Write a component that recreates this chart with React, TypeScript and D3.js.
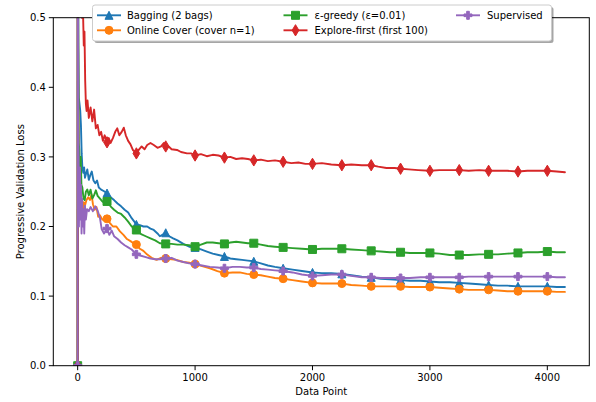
import React from "react";
import * as d3 from "d3";

const W = 596;
const H = 402;

const xTicks = [0, 1000, 2000, 3000, 4000];
const yTicks = [0, 0.1, 0.2, 0.3, 0.4, 0.5];
const xLabel = "Data Point";
const yLabel = "Progressive Validation Loss";

const seriesNames = [
  "Bagging (2 bags)",
  "Online Cover (cover n=1)",
  "ε-greedy (ε=0.01)",
  "Explore-first (first 100)",
  "Supervised",
];
const seriesColors = ["#1f77b4", "#ff7f0e", "#2ca02c", "#d62728", "#9467bd"];
const seriesMarkers = ["triangle", "circle", "square", "thinDiamond", "plus"];

const baggingData: [number, number][] = [
  [0, 0], [1, 1.0], [3, 0.61], [6, 0.46], [10, 0.385], [16, 0.376], [22, 0.366], [28, 0.345], [34, 0.305], [40, 0.285],
  [48, 0.277], [55, 0.285], [62, 0.27], [70, 0.275], [82, 0.282], [95, 0.267], [110, 0.275], [120, 0.279], [135, 0.266],
  [150, 0.262], [165, 0.266], [180, 0.256], [200, 0.253], [221, 0.251], [250, 0.248], [280, 0.242], [310, 0.238],
  [340, 0.233], [370, 0.229], [400, 0.224], [430, 0.22], [460, 0.212], [500, 0.203], [530, 0.202], [560, 0.2],
  [592, 0.2], [620, 0.197], [648, 0.195], [680, 0.19], [700, 0.186], [750, 0.191], [780, 0.186], [813, 0.183],
  [850, 0.18], [900, 0.175], [950, 0.171], [1000, 0.17], [1050, 0.167], [1101, 0.164], [1150, 0.161], [1200, 0.159],
  [1250, 0.157], [1300, 0.154], [1350, 0.153], [1400, 0.152], [1450, 0.151], [1500, 0.15], [1560, 0.147],
  [1620, 0.144], [1680, 0.142], [1750, 0.14], [1830, 0.138], [1910, 0.136], [2000, 0.134], [2080, 0.133],
  [2160, 0.133], [2250, 0.132], [2330, 0.13], [2420, 0.128], [2500, 0.127], [2580, 0.125], [2660, 0.124],
  [2750, 0.123], [2830, 0.122], [2920, 0.122], [3000, 0.121], [3080, 0.12], [3170, 0.12], [3250, 0.119],
  [3330, 0.118], [3420, 0.117], [3500, 0.116], [3580, 0.115], [3660, 0.115], [3750, 0.114], [3830, 0.114],
  [3920, 0.114], [4000, 0.114], [4080, 0.113], [4150, 0.113],
];

const onlineCoverData: [number, number][] = [
  [0, 0], [1, 1.0], [3, 0.55], [6, 0.38], [10, 0.3], [16, 0.26], [24, 0.245], [32, 0.23], [42, 0.22], [52, 0.235],
  [62, 0.23], [75, 0.238], [90, 0.242], [105, 0.238], [118, 0.246], [130, 0.232], [145, 0.224], [160, 0.228],
  [175, 0.214], [190, 0.216], [210, 0.21], [232, 0.209], [250, 0.211], [275, 0.205], [300, 0.2], [330, 0.2],
  [360, 0.193], [390, 0.188], [420, 0.182], [450, 0.179], [475, 0.176], [500, 0.174], [530, 0.168], [560, 0.165],
  [590, 0.16], [630, 0.155], [672, 0.152], [710, 0.155], [750, 0.154], [800, 0.153], [843, 0.152], [900, 0.149],
  [950, 0.148], [1000, 0.146], [1060, 0.143], [1126, 0.14], [1190, 0.136], [1250, 0.133], [1320, 0.134],
  [1381, 0.134], [1440, 0.132], [1500, 0.131], [1560, 0.13], [1620, 0.128], [1680, 0.126], [1750, 0.125],
  [1830, 0.123], [1910, 0.121], [2000, 0.119], [2080, 0.118], [2160, 0.118], [2250, 0.118], [2330, 0.116],
  [2420, 0.115], [2500, 0.114], [2580, 0.114], [2660, 0.114], [2750, 0.114], [2830, 0.113], [2920, 0.113],
  [3000, 0.113], [3080, 0.112], [3170, 0.111], [3250, 0.11], [3330, 0.109], [3420, 0.109], [3500, 0.109],
  [3580, 0.108], [3660, 0.107], [3750, 0.107], [3830, 0.107], [3920, 0.107], [4000, 0.107], [4080, 0.106],
  [4150, 0.106],
];

const epsGreedyData: [number, number][] = [
  [0, 0], [1, 1.0], [3, 0.6], [6, 0.4], [9, 0.32], [14, 0.31], [20, 0.28], [26, 0.3], [32, 0.26], [40, 0.256],
  [50, 0.24], [60, 0.238], [70, 0.25], [82, 0.253], [95, 0.245], [110, 0.253], [125, 0.24], [140, 0.245],
  [155, 0.252], [170, 0.244], [190, 0.24], [210, 0.236], [230, 0.234], [250, 0.236], [280, 0.229], [310, 0.224],
  [340, 0.22], [370, 0.218], [400, 0.213], [430, 0.207], [460, 0.2], [500, 0.195], [540, 0.189], [580, 0.186],
  [620, 0.183], [660, 0.18], [700, 0.176], [750, 0.175], [800, 0.175], [850, 0.174], [900, 0.174], [950, 0.173],
  [1000, 0.171], [1050, 0.174], [1100, 0.177], [1150, 0.177], [1200, 0.176], [1250, 0.175], [1300, 0.177],
  [1350, 0.178], [1400, 0.177], [1450, 0.176], [1500, 0.176], [1560, 0.174], [1620, 0.172], [1680, 0.171],
  [1750, 0.17], [1830, 0.169], [1910, 0.168], [2000, 0.167], [2080, 0.168], [2160, 0.168], [2250, 0.168],
  [2330, 0.167], [2420, 0.166], [2500, 0.165], [2580, 0.164], [2660, 0.163], [2750, 0.163], [2830, 0.162],
  [2920, 0.162], [3000, 0.162], [3080, 0.161], [3170, 0.159], [3250, 0.159], [3330, 0.159], [3420, 0.16],
  [3500, 0.16], [3580, 0.16], [3660, 0.161], [3750, 0.162], [3830, 0.163], [3920, 0.163], [4000, 0.164],
  [4080, 0.163], [4150, 0.163],
];

const exploreFirstData: [number, number][] = [
  [0, 0], [1, 1.0], [5, 0.63], [12, 0.56], [20, 0.51], [28, 0.54], [36, 0.5], [44, 0.52], [52, 0.46], [58, 0.48],
  [64, 0.41], [70, 0.376], [76, 0.366], [84, 0.381], [95, 0.356], [110, 0.371], [125, 0.351], [140, 0.368], [155, 0.341],
  [170, 0.346], [185, 0.331], [200, 0.336], [215, 0.323], [230, 0.331], [250, 0.321], [265, 0.327], [280, 0.32],
  [300, 0.327], [320, 0.336], [337, 0.341], [355, 0.331], [375, 0.336], [393, 0.342], [410, 0.331], [430, 0.323],
  [450, 0.318], [470, 0.31], [490, 0.307], [500, 0.305], [520, 0.31], [545, 0.315], [570, 0.311], [592, 0.317],
  [620, 0.32], [648, 0.317], [680, 0.313], [710, 0.315], [735, 0.32], [750, 0.315], [775, 0.315], [800, 0.311],
  [846, 0.31], [880, 0.307], [931, 0.305], [965, 0.305], [1000, 0.302], [1050, 0.304], [1100, 0.301],
  [1150, 0.303], [1200, 0.302], [1250, 0.299], [1300, 0.3], [1350, 0.297], [1400, 0.298], [1450, 0.297],
  [1500, 0.295], [1560, 0.296], [1620, 0.294], [1680, 0.295], [1750, 0.293], [1820, 0.291], [1880, 0.292],
  [1940, 0.29], [2000, 0.29], [2080, 0.291], [2160, 0.289], [2250, 0.288], [2330, 0.289], [2420, 0.288],
  [2500, 0.288], [2560, 0.286], [2630, 0.284], [2700, 0.284], [2750, 0.283], [2820, 0.282], [2900, 0.281],
  [3000, 0.28], [3080, 0.281], [3160, 0.281], [3250, 0.281], [3330, 0.28], [3420, 0.281], [3500, 0.28],
  [3580, 0.28], [3660, 0.28], [3750, 0.279], [3830, 0.28], [3900, 0.28], [4000, 0.28], [4080, 0.279],
  [4150, 0.278],
];

const supervisedData: [number, number][] = [
  [0, 0], [1, 1.0], [3, 0.5], [5, 0.35], [8, 0.3], [11, 0.2], [14, 0.27], [17, 0.22], [20, 0.285], [24, 0.21],
  [28, 0.26], [33, 0.19], [38, 0.24], [44, 0.2], [50, 0.225], [56, 0.19], [62, 0.23], [70, 0.21], [80, 0.225],
  [95, 0.222], [110, 0.228], [130, 0.222], [150, 0.229], [170, 0.223], [190, 0.212], [205, 0.196], [225, 0.19],
  [250, 0.197], [270, 0.188], [290, 0.194], [310, 0.186], [340, 0.182], [370, 0.177], [400, 0.173], [430, 0.17],
  [460, 0.167], [500, 0.16], [540, 0.158], [580, 0.156], [620, 0.154], [660, 0.153], [700, 0.153], [750, 0.154],
  [800, 0.155], [850, 0.151], [900, 0.149], [950, 0.147], [1000, 0.146], [1060, 0.144], [1126, 0.142],
  [1190, 0.141], [1250, 0.14], [1320, 0.142], [1381, 0.142], [1440, 0.141], [1500, 0.141], [1560, 0.139],
  [1620, 0.138], [1680, 0.137], [1750, 0.136], [1830, 0.134], [1910, 0.131], [2000, 0.129], [2080, 0.13],
  [2160, 0.131], [2250, 0.131], [2330, 0.129], [2420, 0.127], [2500, 0.127], [2580, 0.126], [2660, 0.126],
  [2750, 0.126], [2830, 0.126], [2920, 0.127], [3000, 0.127], [3080, 0.127], [3170, 0.127], [3250, 0.127],
  [3330, 0.128], [3420, 0.128], [3500, 0.128], [3580, 0.128], [3660, 0.128], [3750, 0.128], [3830, 0.128],
  [3920, 0.128], [4000, 0.128], [4080, 0.127], [4150, 0.127],
];

const seriesData = [baggingData, onlineCoverData, epsGreedyData, exploreFirstData, supervisedData];
const markEvery = 250;

// layout
const AX_L = 53.3;
const AX_R = 589.3;
const AX_T = 17.7;
const AX_B = 365.7;
const MS = 8;

function markerPath(kind: string, s: number): string {
  const h = s / 2;
  switch (kind) {
    case "triangle":
      return `M0,${-h}L${h},${h}L${-h},${h}Z`;
    case "square":
      return `M${-h},${-h}H${h}V${h}H${-h}Z`;
    case "thinDiamond": {
      const dy = h * 1.414;
      const dx = dy * 0.6;
      return `M0,${-dy}L${dx},0L0,${dy}L${-dx},0Z`;
    }
    case "plus": {
      const a = s / 6;
      return `M${-a},${-h}H${a}V${-a}H${h}V${a}H${a}V${h}H${-a}V${a}H${-h}V${-a}H${-a}Z`;
    }
    default: {
      return d3.symbol(d3.symbolCircle, Math.PI * h * h)() || "";
    }
  }
}

export default function App() {
  const x = d3.scaleLinear().domain([-207.5, 4357.5]).range([AX_L, AX_R]);
  const y = d3.scaleLinear().domain([0, 0.5]).range([AX_B, AX_T]);
  const line = d3
    .line<[number, number]>()
    .x((d) => x(d[0]))
    .y((d) => y(d[1]));
  const font = "'DejaVu Sans', sans-serif";

  const legendCols = [
    { hx: 97, tx: 127 },
    { hx: 283.5, tx: 314.5 },
    { hx: 456, tx: 487 },
  ];
  const legendRows = [15.3, 30.3];

  return (
    <svg
      width={W}
      height={H}
      viewBox={`0 0 ${W} ${H}`}
      style={{ position: "absolute", left: 0, top: 0, background: "#fff" }}
      fontFamily={font}
    >
      <rect x={0} y={0} width={W} height={H} fill="#fff" />
      <defs>
        <clipPath id="plotclip">
          <rect x={AX_L} y={AX_T} width={AX_R - AX_L} height={AX_B - AX_T} />
        </clipPath>
      </defs>

      <g clipPath="url(#plotclip)">
        {seriesData.map((data, i) => (
          <g key={i}>
            <path
              d={line(data) || ""}
              fill="none"
              stroke={seriesColors[i]}
              strokeWidth={1.9}
              strokeLinejoin="round"
              strokeLinecap="round"
            />
            {data
              .filter((d) => d[0] % markEvery === 0)
              .map((d, j) => (
                <path
                  key={j}
                  transform={`translate(${x(d[0])},${y(d[1])})`}
                  d={markerPath(seriesMarkers[i], MS)}
                  fill={seriesColors[i]}
                  stroke={seriesColors[i]}
                  strokeWidth={1}
                />
              ))}
          </g>
        ))}
      </g>

      {/* spines */}
      <rect
        x={AX_L}
        y={AX_T}
        width={AX_R - AX_L}
        height={AX_B - AX_T}
        fill="none"
        stroke="#000"
        strokeWidth={1}
      />

      {/* x ticks */}
      {xTicks.map((t) => (
        <g key={t} transform={`translate(${x(t)},${AX_B})`}>
          <line y1={0} y2={4.5} stroke="#000" strokeWidth={1} />
          <text y={15} textAnchor="middle" fontSize={10} fill="#000">
            {t}
          </text>
        </g>
      ))}
      {/* y ticks */}
      {yTicks.map((t) => (
        <g key={t} transform={`translate(${AX_L},${y(t)})`}>
          <line x1={0} x2={-4.5} stroke="#000" strokeWidth={1} />
          <text x={-7.5} y={3.6} textAnchor="end" fontSize={10} fill="#000">
            {d3.format(".1f")(t)}
          </text>
        </g>
      ))}

      <text x={(AX_L + AX_R) / 2} y={395} textAnchor="middle" fontSize={10} fill="#000">
        {xLabel}
      </text>
      <text
        transform={`translate(23.5,${(AX_T + AX_B) / 2}) rotate(-90)`}
        textAnchor="middle"
        fontSize={10}
        fill="#000"
      >
        {yLabel}
      </text>

      {/* legend */}
      <g>
        <rect x={94.5} y={7} width={459} height={36} rx={2.5} fill="#000" opacity={0.35} />
        <rect x={92.5} y={5} width={459} height={36} rx={2.5} fill="#fff" stroke="#cccccc" strokeWidth={1} />
        {seriesNames.map((name, i) => {
          const col = legendCols[Math.floor(i / 2)];
          const ry = legendRows[i % 2];
          return (
            <g key={name}>
              <line x1={col.hx} x2={col.hx + 24} y1={ry} y2={ry} stroke={seriesColors[i]} strokeWidth={1.9} />
              <path
                transform={`translate(${col.hx + 12},${ry})`}
                d={markerPath(seriesMarkers[i], MS)}
                fill={seriesColors[i]}
                stroke={seriesColors[i]}
                strokeWidth={1}
              />
              <text x={col.tx} y={ry + 3.6} fontSize={10} fill="#000">
                {name}
              </text>
            </g>
          );
        })}
      </g>
    </svg>
  );
}
